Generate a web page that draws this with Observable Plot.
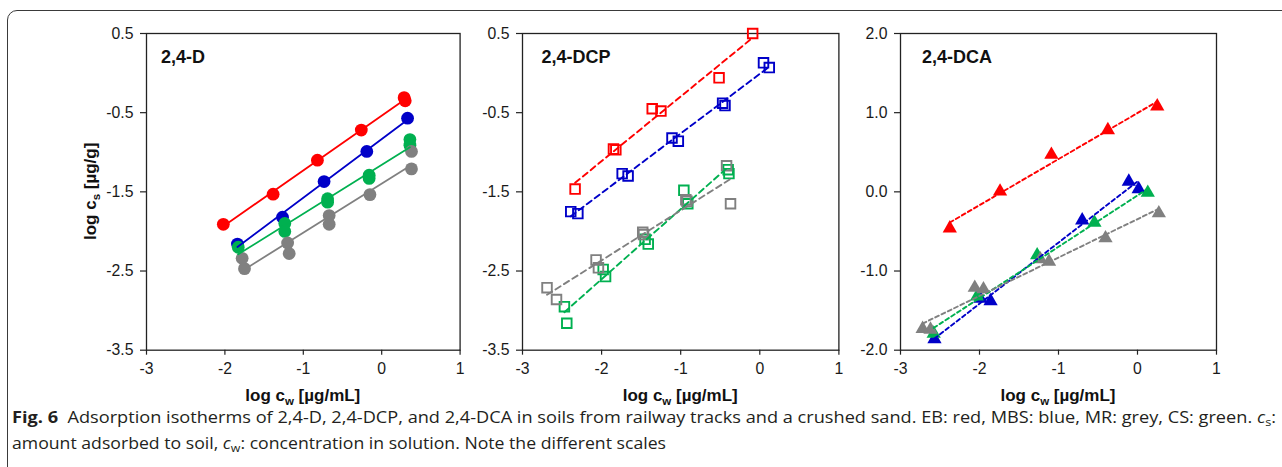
<!DOCTYPE html>
<html>
<head>
<meta charset="utf-8">
<script src="https://cdn.jsdelivr.net/npm/d3@7"></script>
<script src="https://cdn.jsdelivr.net/npm/@observablehq/plot@0.6"></script>
<style>
  html, body { margin: 0; padding: 0; background: #fff; }
  #root { position: relative; width: 1282px; height: 467px; overflow: hidden; background: #fff; }
  #box { position: absolute; left: 7px; top: 10px; width: 1320px; height: 480px; border: 1.5px solid #3a3a3a; border-radius: 10px; box-sizing: border-box; }
  .panel { position: absolute; top: 20px; }
  #cap { position: absolute; left: 12px; top: 404px; font-family: "Open Sans", sans-serif; font-size: 16.5px; color: #231f20; line-height: 26px; white-space: nowrap; }
  #cap .ln { display: block; transform-origin: 0 50%; width: max-content; }
  #cap b { font-weight: 700; }
  .sub { font-size: 70%; vertical-align: -0.3em; line-height: 0; }
</style>
</head>
<body>
<div id="root">
  <div id="box"></div>
  <div id="p1" class="panel"></div>
  <div id="p2" class="panel"></div>
  <div id="p3" class="panel"></div>
  <div id="cap">
    <span class="ln" id="l1"><b>Fig. 6</b>&nbsp; Adsorption isotherms of 2,4-D, 2,4-DCP, and 2,4-DCA in soils from railway tracks and a crushed sand. EB: red, MBS: blue, MR: grey, CS: green. <i>c</i><span class="sub">s</span>:</span>
    <span class="ln" id="l2">amount adsorbed to soil, <i>c</i><span class="sub">w</span>: concentration in solution. Note the different scales</span>
  </div>
</div>
<script>
// ---- categories / labels ----
const soils = ["EB", "MBS", "MR", "CS"];
const soilColors = ["#ff0000", "#0000c8", "#808080", "#00b050"];
const drawOrder = ["EB", "MBS", "CS", "MR"];
const compounds = ["2,4-D", "2,4-DCP", "2,4-DCA"];
const xTicks = [-3, -2, -1, 0, 1];
const yTicksD = [0.5, -0.5, -1.5, -2.5, -3.5];
const yTicksDCP = [0.5, -0.5, -1.5, -2.5, -3.5];
const yTicksDCA = [2, 1, 0, -1, -2];

// ---- 2,4-D  [log cw, log cs] ----
const D_EB  = [[-2.02,-1.91],[-1.385,-1.53],[-0.82,-1.10],[-0.26,-0.72],[0.286,-0.31],[0.30,-0.35]];
const D_MBS = [[-1.84,-2.16],[-1.265,-1.82],[-0.735,-1.37],[-0.19,-0.99],[0.33,-0.57]];
const D_CS  = [[-1.83,-2.20],[-1.236,-1.90],[-1.236,-2.00],[-0.69,-1.586],[-0.69,-1.63],[-0.16,-1.29],[-0.16,-1.33],[0.36,-0.84],[0.36,-0.91]];
const D_MR  = [[-1.78,-2.34],[-1.75,-2.47],[-1.20,-2.146],[-1.18,-2.28],[-0.67,-1.80],[-0.67,-1.91],[-0.15,-1.535],[0.38,-0.99],[0.38,-1.21]];

// ---- 2,4-DCP ----
const DCP_EB  = [[-2.335,-1.465],[-1.85,-0.96],[-1.82,-0.97],[-1.36,-0.45],[-1.25,-0.48],[-0.515,-0.06],[-0.09,0.50]];
const DCP_MBS = [[-2.39,-1.75],[-2.30,-1.775],[-1.74,-1.27],[-1.665,-1.30],[-1.11,-0.82],[-1.03,-0.86],[-0.47,-0.38],[-0.44,-0.41],[0.047,0.13],[0.12,0.07]];
const DCP_MR  = [[-2.69,-2.71],[-2.57,-2.86],[-2.07,-2.36],[-2.04,-2.46],[-1.48,-2.01],[-1.47,-2.04],[-0.935,-1.60],[-0.92,-1.62],[-0.42,-1.17],[-0.37,-1.65]];
const DCP_CS  = [[-2.47,-2.95],[-2.44,-3.16],[-1.98,-2.48],[-1.95,-2.57],[-1.45,-2.10],[-1.41,-2.16],[-0.96,-1.48],[-0.91,-1.65],[-0.40,-1.22],[-0.39,-1.27]];

// ---- 2,4-DCA ----
const DCA_EB  = [[-2.376,-0.46],[-1.74,0.005],[-1.09,0.47],[-0.375,0.78],[0.25,1.08]];
const DCA_MBS = [[-2.57,-1.86],[-1.99,-1.35],[-1.86,-1.38],[-0.70,-0.36],[-0.11,0.13],[0.015,0.035]];
const DCA_MR  = [[-2.72,-1.73],[-2.62,-1.74],[-2.06,-1.21],[-1.95,-1.23],[-1.23,-0.85],[-1.12,-0.88],[-0.405,-0.585],[0.27,-0.27]];
const DCA_CS  = [[-2.58,-1.79],[-2.03,-1.32],[-1.27,-0.80],[-0.545,-0.39],[0.13,-0.01]];

function toRows(series) {
  const rows = [];
  for (const s of drawOrder) for (const [x, y] of series[s]) rows.push({soil: s, x, y});
  return rows;
}

const colorOf = s => soilColors[soils.indexOf(s)];
const FONT = "'Liberation Sans', Arial, Helvetica, sans-serif";
const TICKFS = 15.8;
const TITLEFS = 17;

function panel(cfg) {
  const rows = toRows(cfg.series);
  const mL = 70, mR = 10, mT = 13, mB = 60;
  const marks = [
    Plot.frame({stroke: "#222", strokeWidth: 1.3}),
    Plot.axisX({ticks: xTicks, tickFormat: d => String(d), tickSize: 5, tickPadding: 8, fontSize: TICKFS, label: null, stroke: "#222", strokeWidth: 1.2}),
    Plot.axisY({ticks: cfg.yTicks, tickFormat: d => d.toFixed(1), tickSize: 6, tickPadding: 7, fontSize: TICKFS, label: null, stroke: "#222", strokeWidth: 1.2})
  ];
  for (const s of drawOrder) {
    const d = rows.filter(r => r.soil === s);
    if (cfg.symbol === "square") {
      marks.push(Plot.dot(d, {x: "x", y: "y", symbol: "square", r: 5.4, fill: "none", stroke: colorOf(s), strokeWidth: 1.9}));
    } else if (cfg.symbol === "triangle") {
      marks.push(Plot.dot(d, {x: "x", y: "y", symbol: "triangle", r: 5.3, fill: colorOf(s), stroke: "none"}));
    } else {
      marks.push(Plot.dot(d, {x: "x", y: "y", r: 6.4, fill: colorOf(s), stroke: "none"}));
    }
  }
  for (const s of drawOrder) {
    const d = rows.filter(r => r.soil === s);
    marks.push(Plot.linearRegressionY(d, {x: "x", y: "y", ci: 0, stroke: colorOf(s), strokeWidth: cfg.dashed ? 1.9 : 1.8, strokeDasharray: cfg.dashed ? cfg.dash : null}));
  }
  marks.push(Plot.text([cfg.label], {frameAnchor: "top-left", dx: cfg.labelDx, dy: 24, text: d => d, textAnchor: "start", lineAnchor: "middle", fontWeight: "bold", fontSize: 18, fill: "#111"}));
  const svg = Plot.plot({
    width: mL + cfg.plotW + mR,
    height: mT + 316.7 + mB,
    marginLeft: mL, marginRight: mR, marginTop: mT, marginBottom: mB,
    x: {domain: [-3, 1]},
    y: {domain: cfg.yDomain},
    style: {fontFamily: FONT, fontSize: "15.8px", color: "#1a1a1a", background: "transparent", overflow: "visible"},
    marks
  });
  const sel = d3.select(svg);
  // x axis title with subscript
  const xt = sel.append("text")
    .attr("x", mL + cfg.plotW / 2).attr("y", mT + 316.7 + 51)
    .attr("text-anchor", "middle").attr("font-family", FONT).attr("font-size", TITLEFS)
    .attr("font-weight", "bold").attr("fill", "#111");
  xt.append("tspan").text("log c");
  xt.append("tspan").attr("dy", 4).attr("font-size", 11.5).text("w");
  xt.append("tspan").attr("dy", -4).text(" [µg/mL]");
  if (cfg.yTitle) {
    const cy = mT + 316.7 / 2;
    const yt = sel.append("text")
      .attr("transform", `translate(20,${cy}) rotate(-90)`)
      .attr("text-anchor", "middle").attr("font-family", FONT).attr("font-size", TITLEFS)
      .attr("font-weight", "bold").attr("fill", "#111");
    yt.append("tspan").text("log c");
    yt.append("tspan").attr("dy", 4).attr("font-size", 11.5).text("s");
    yt.append("tspan").attr("dy", -4).text(" [µg/g]");
  }
  return svg;
}

const p1 = panel({series: {EB: D_EB, MBS: D_MBS, MR: D_MR, CS: D_CS}, yDomain: [-3.5, 0.5], yTicks: yTicksD, label: compounds[0], symbol: "circle", dashed: false, plotW: 313.6, labelDx: 14.5, yTitle: true});
const p2 = panel({series: {EB: DCP_EB, MBS: DCP_MBS, MR: DCP_MR, CS: DCP_CS}, yDomain: [-3.5, 0.5], yTicks: yTicksDCP, label: compounds[1], symbol: "square", dashed: true, dash: "6,4", plotW: 316.4, labelDx: 19});
const p3 = panel({series: {EB: DCA_EB, MBS: DCA_MBS, MR: DCA_MR, CS: DCA_CS}, yDomain: [-2, 2], yTicks: yTicksDCA, label: compounds[2], symbol: "triangle", dashed: true, dash: "4,3", plotW: 316, labelDx: 21.5});

const place = (id, svg, left) => { const el = document.getElementById(id); el.style.left = left + "px"; el.appendChild(svg); };
place("p1", p1, 75.7);
place("p2", p2, 451.7);
place("p3", p3, 830);

// fit caption line widths to the reference figure
const l1 = document.getElementById("l1"), l2 = document.getElementById("l2");
const k1 = 1264 / l1.getBoundingClientRect().width;
const k2 = 654 / l2.getBoundingClientRect().width;
l1.style.transform = `scaleX(${k1})`;
l2.style.transform = `scaleX(${k2})`;
</script>
</body>
</html>
